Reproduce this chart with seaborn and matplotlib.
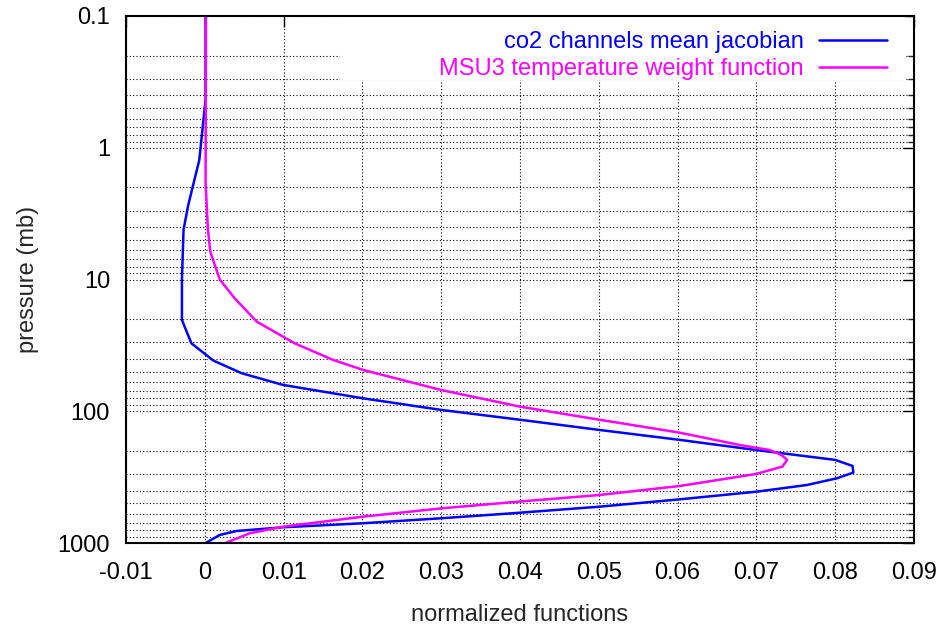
import matplotlib
matplotlib.use("Agg")
import matplotlib.pyplot as plt
import matplotlib.ticker as mticker
from matplotlib.patches import Rectangle
import seaborn as sns
import numpy as np
import pandas as pd

# ---- data ----
co2_pressure = [0.1, 0.43, 1.24, 2.72, 4.2, 10, 20.3, 30.5, 41.3, 51.5, 63.1, 79.8, 97.7,
                116, 138.7, 165, 197, 234, 260, 292, 323, 363, 408, 466, 530, 595, 649,
                708, 760, 811, 869, 1000]
co2_jacobian = [0.0001, 0.0001, -0.0007, -0.0021, -0.0027, -0.0029, -0.0029, -0.0017, 0.0011,
                0.0047, 0.0099, 0.0201, 0.0300, 0.0400, 0.0501, 0.0603, 0.0700, 0.0800,
                0.0822, 0.0823, 0.0802, 0.0764, 0.0700, 0.0603, 0.0501, 0.0390, 0.0300,
                0.0201, 0.0099, 0.0040, 0.0019, 0.0001]

msu_pressure = [0.1, 1.85, 4.2, 6.15, 10, 13.9, 20.9, 30.5, 40.8, 48.6, 69, 92.3, 116, 145.5,
                180, 197, 215, 234, 263, 299, 369, 432, 490, 546, 631, 752, 844, 1000]
msu_weight = [0.00015, 0.0001, 0.0004, 0.0007, 0.0019, 0.0038, 0.0066, 0.0114, 0.0163, 0.0201,
              0.0300, 0.0400, 0.0501, 0.0603, 0.0678, 0.0717, 0.0732, 0.0739, 0.0733, 0.0700,
              0.0603, 0.0501, 0.0390, 0.0300, 0.0201, 0.0099, 0.0057, 0.0026]

series_labels = ["co2 channels mean jacobian", "MSU3 temperature weight function"]
series_colors = ["#0000ff", "#ff00ff"]
x_ticks = [-0.01, 0, 0.01, 0.02, 0.03, 0.04, 0.05, 0.06, 0.07, 0.08, 0.09]
x_ticklabels = ["-0.01", "0", "0.01", "0.02", "0.03", "0.04", "0.05", "0.06", "0.07", "0.08", "0.09"]
y_ticks = [0.1, 1, 10, 100, 1000]
y_ticklabels = ["0.1", "1", "10", "100", "1000"]

sns.set_style("white")
plt.rcParams['font.family'] = ['Liberation Sans', 'DejaVu Sans']

FS = 17

fig = plt.figure(figsize=(9.39, 6.27), dpi=100)
ax = fig.add_axes([126/939, 1 - 543/627, (914-126)/939, (543-16)/627])

df = pd.concat([
    pd.DataFrame({"x": co2_jacobian, "p": co2_pressure, "s": series_labels[0]}),
    pd.DataFrame({"x": msu_weight, "p": msu_pressure, "s": series_labels[1]}),
])

for lab, col in zip(series_labels, series_colors):
    sub = df[df.s == lab]
    sns.lineplot(data=sub, x="x", y="p", sort=False, estimator=None, color=col,
                 linewidth=1.8, ax=ax, label=lab, zorder=3)

ax.set_yscale("log")
ax.set_ylim(1000, 0.1)
ax.set_xlim(-0.01, 0.09)
ax.set_xticks(x_ticks)
ax.set_xticklabels(x_ticklabels)
ax.set_yticks(y_ticks)
ax.set_yticklabels(y_ticklabels)
ax.yaxis.set_minor_locator(mticker.LogLocator(base=10, subs=np.arange(2, 10)))
ax.yaxis.set_minor_formatter(mticker.NullFormatter())

grid_kw = dict(color="black", linestyle=(0, (1, 2)), linewidth=0.8)
ax.grid(True, which="major", axis="both", **grid_kw)
ax.grid(True, which="minor", axis="y", **grid_kw)
ax.set_axisbelow(True)

ax.tick_params(axis="both", which="major", direction="in", length=8, width=1,
               top=True, right=True, labelsize=FS, colors="black")
ax.tick_params(axis="x", which="major", pad=14)
ax.tick_params(axis="y", which="major", pad=11.5)
ax.tick_params(axis="both", which="minor", direction="in", length=4, width=1,
               top=True, right=True)
for sp in ax.spines.values():
    sp.set_visible(True)
    sp.set_color("black")
    sp.set_linewidth(1.5)
    sp.set_zorder(6)

ax.set_xlabel("normalized functions", fontsize=FS, labelpad=14)
ax.set_ylabel("pressure (mb)", fontsize=FS, labelpad=13)

# white key area (hides the grid behind the key, as in the original)
ax.add_patch(Rectangle((0.2716, 0.8786), 0.9886 - 0.2716, 1 - 0.8786,
                       transform=ax.transAxes, facecolor="white", edgecolor="none",
                       zorder=1))

leg = ax.legend(loc="upper right", bbox_to_anchor=(0.9657, 0.9715), markerfirst=False,
                frameon=False, fontsize=FS, handlelength=2.88, borderaxespad=0,
                labelspacing=0.22, handletextpad=0.64, borderpad=0)
leg.set_zorder(5)
for t, c in zip(leg.get_texts(), series_colors):
    t.set_color(c)

fig.savefig("out.png", dpi=100)
